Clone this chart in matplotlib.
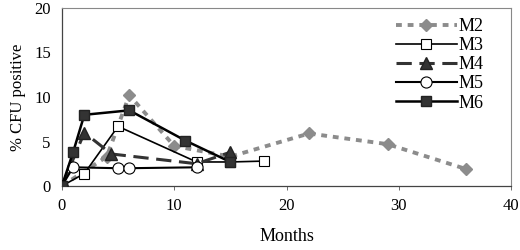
import matplotlib.pyplot as plt

plt.rcParams['font.family'] = ['Liberation Serif', 'DejaVu Serif']

m2_x = [0, 4, 6, 10, 15, 22, 29, 36]
m2_y = [0, 3.3, 10.2, 4.5, 3.3, 5.9, 4.7, 1.9]
m3_x = [0, 2, 5, 12, 15, 18]
m3_y = [0, 1.4, 6.7, 2.7, 2.7, 2.8]
m4_x = [0, 2, 4.4, 12, 15]
m4_y = [0, 6.0, 3.6, 2.5, 3.8]
m5_x = [0, 1, 5, 6, 12]
m5_y = [0, 2.1, 2.0, 2.0, 2.1]
m6_x = [0, 1, 2, 6, 11, 15]
m6_y = [0, 3.8, 8.0, 8.5, 5.1, 2.7]

fig = plt.figure(figsize=(5.2, 2.5), dpi=100)
ax = fig.add_axes([0.119, 0.256, 0.864, 0.712])

ax.plot(m2_x, m2_y, linestyle=(0, (1.5, 1.5)), color='#8c8c8c', linewidth=2.8,
        marker='D', markersize=6.5, markerfacecolor='#8c8c8c',
        markeredgecolor='#8c8c8c', label='M2', zorder=2)
ax.plot(m3_x, m3_y, linestyle='-', color='black', linewidth=1.2,
        marker='s', markersize=7.5, markerfacecolor='white',
        markeredgecolor='black', markeredgewidth=0.8, label='M3', zorder=3)
ax.plot(m4_x, m4_y, linestyle=(0, (5, 2.5)), color='#333333', linewidth=2.2,
        marker='^', markersize=8, markerfacecolor='#333333',
        markeredgecolor='#222222', label='M4', zorder=3)
ax.plot(m5_x, m5_y, linestyle='-', color='black', linewidth=1.5,
        marker='o', markersize=8, markerfacecolor='white',
        markeredgecolor='black', markeredgewidth=0.8, label='M5', zorder=4)
ax.plot(m6_x, m6_y, linestyle='-', color='black', linewidth=1.8,
        marker='s', markersize=7.5, markerfacecolor='#333333',
        markeredgecolor='#222222', label='M6', zorder=5)

ax.set_xlim(0, 40)
ax.set_ylim(0, 20)
ax.set_xticks([0, 10, 20, 30, 40])
ax.set_yticks([0, 5, 10, 15, 20])
ax.tick_params(axis='both', labelsize=12, length=3, width=0.6, colors='#555555',
               labelcolor='black', pad=6)
ax.tick_params(axis='y', length=0, pad=8)
ax.set_xlabel('Months', fontsize=13)
ax.set_ylabel('% CFU positive', fontsize=12, labelpad=6)
ax.xaxis.set_label_coords(0.5, -0.235)

for side in ['top', 'right']:
    ax.spines[side].set_color('#888888')
    ax.spines[side].set_linewidth(0.8)
for side in ['left', 'bottom']:
    ax.spines[side].set_color('#444444')
    ax.spines[side].set_linewidth(0.9)

ax.legend(loc='upper right', bbox_to_anchor=(0.955, 0.985), frameon=False,
          fontsize=13, handlelength=3.4, handletextpad=0.1,
          labelspacing=0.12, borderaxespad=0)

fig.savefig('out.png', dpi=100)
